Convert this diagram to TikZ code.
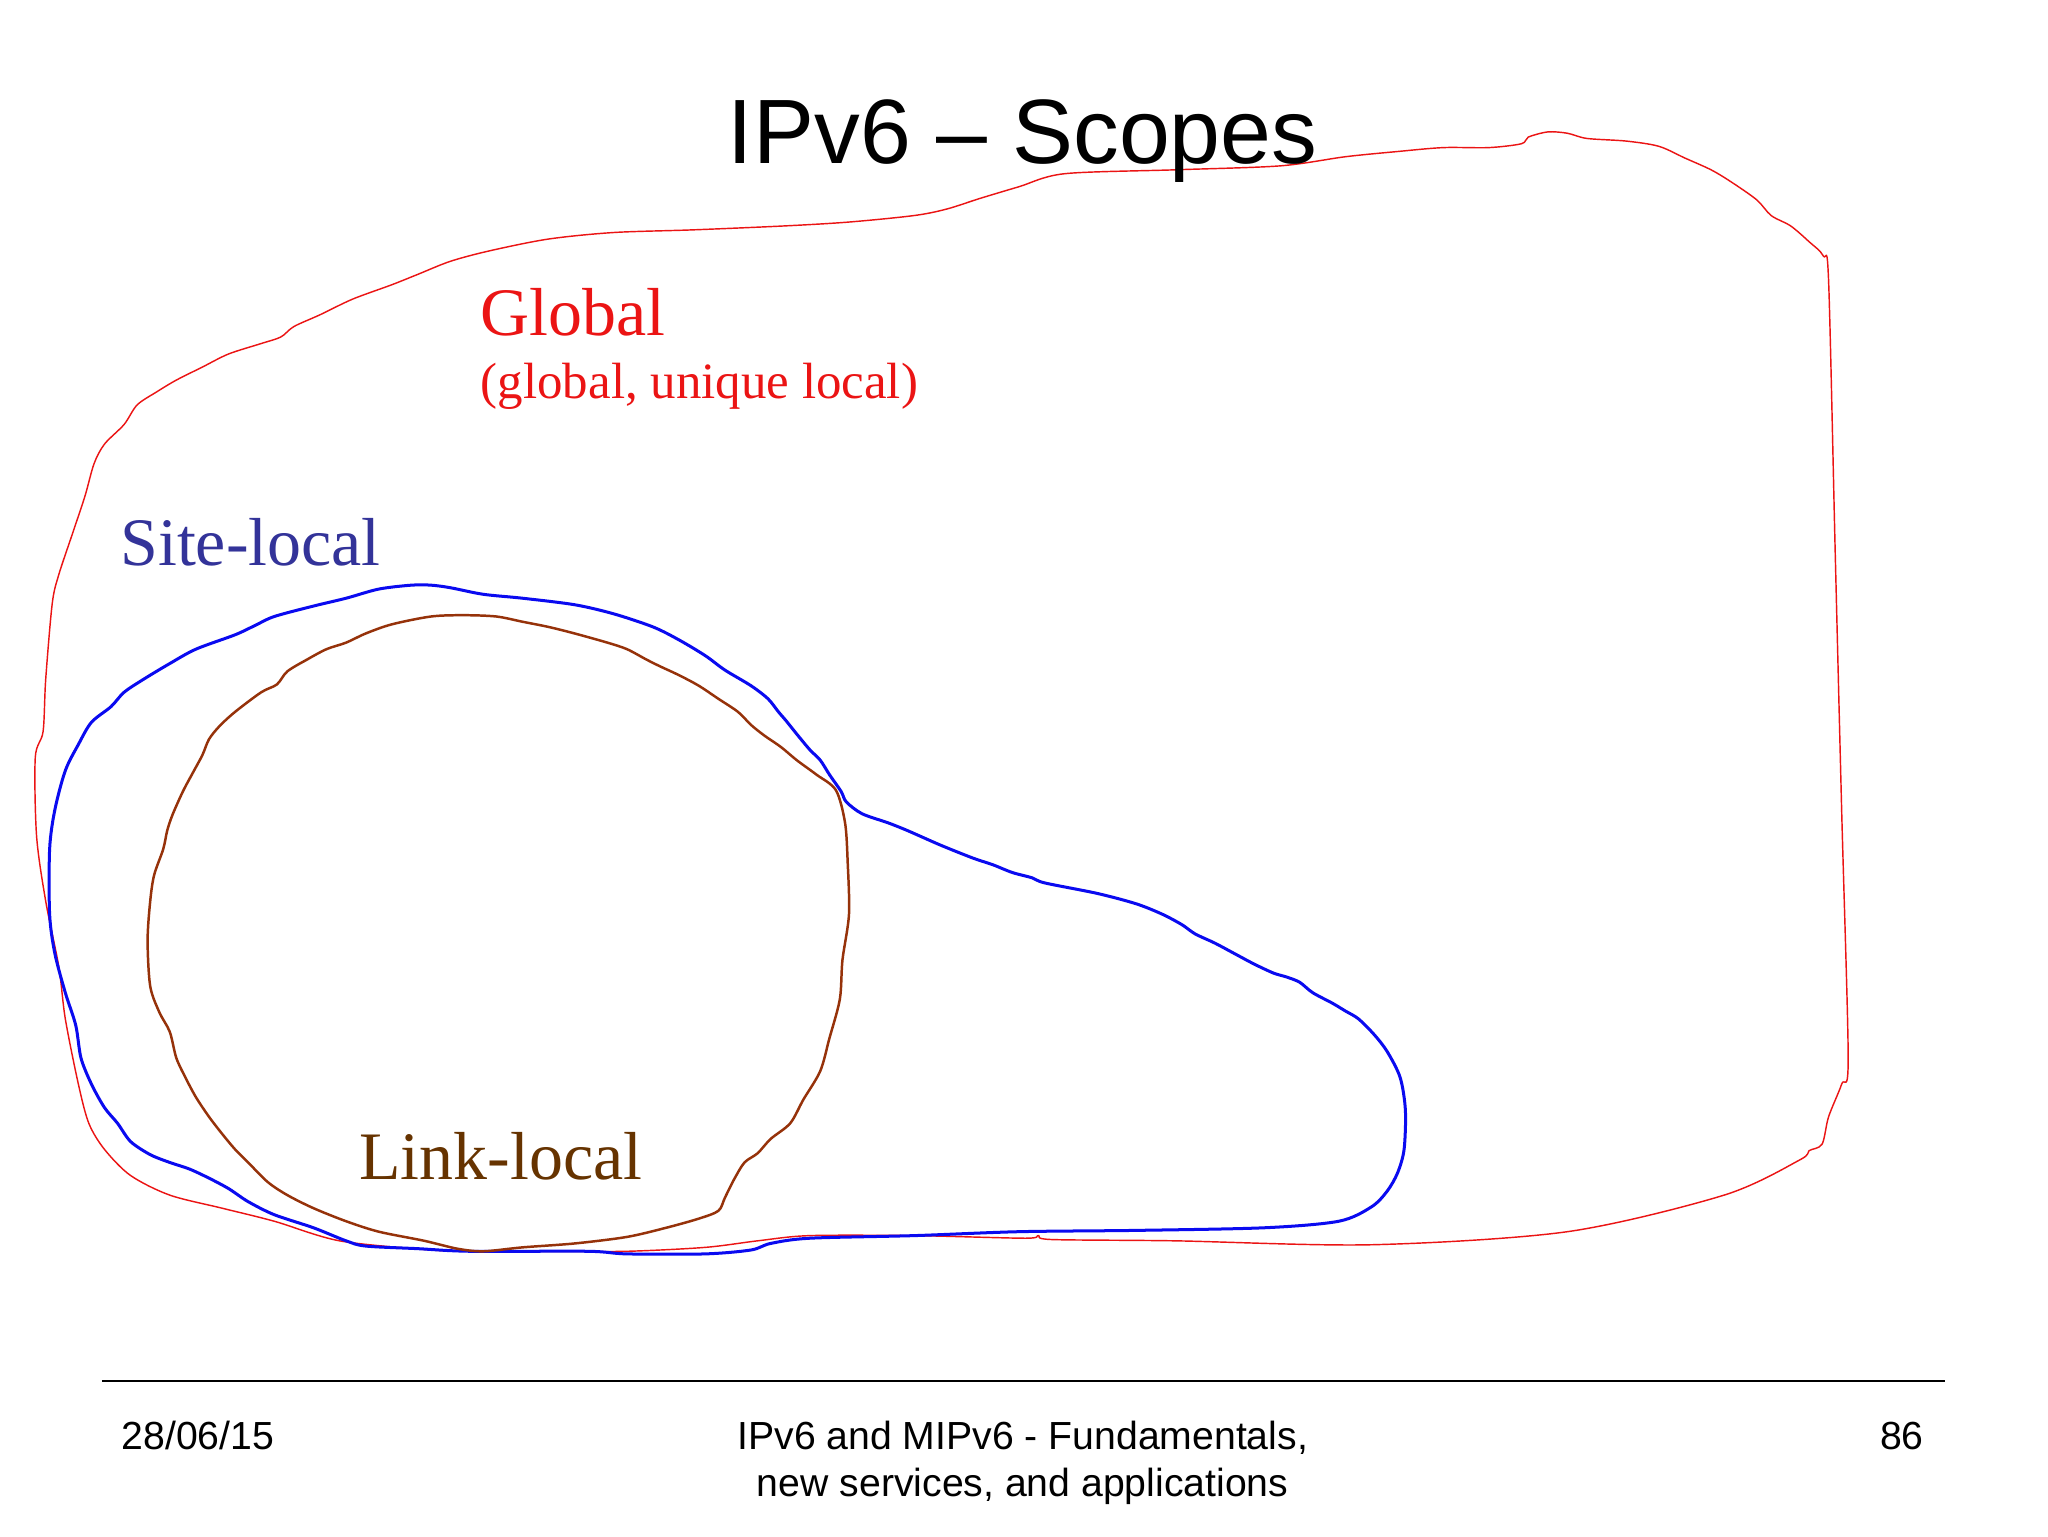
\documentclass[tikz,border=0pt]{standalone}
\usepackage{fontspec}
\setmainfont{Liberation Serif}
\setsansfont{Liberation Sans}
\definecolor{globalred}{RGB}{235,20,20}
\definecolor{siteblue}{RGB}{10,10,240}
\definecolor{sitetext}{RGB}{51,51,153}
\definecolor{linkbrown}{RGB}{150,50,10}
\definecolor{linktext}{RGB}{102,51,0}
\tikzset{
  globalline/.style={draw=globalred, line width=1.1pt, line join=round},
  siteline/.style={draw=siteblue, line width=2.3pt, line join=round},
  linkline/.style={draw=linkbrown, line width=1.9pt, line join=round},
  lbl/.style={inner sep=0pt, anchor=base west, font=\fontsize{52}{60}\selectfont},
  foot/.style={inner sep=0pt, font=\sffamily\fontsize{30}{36}\selectfont}
}
\begin{document}
\begin{tikzpicture}[x=1pt,y=-1pt]
\useasboundingbox[fill=white] (0,0) rectangle (1568,1176);
% outer global scope
\draw[globalline] plot[smooth cycle, tension=0.5] coordinates {
(1170,105) (1185,101) (1200,102) (1215,106) (1245,108) (1270,112) (1290,121) (1310,130)
(1325,139) (1345,153) (1356,165) (1371,173) (1385,185) (1396,196) (1400,215)
(1405,420) (1410,620) (1415,810) (1410,830) (1400,855) (1395,876) (1385,881) (1378,888)
(1320,915) (1200,943) (1050,953) (900,950) (805,949) (795,946) (785,948) (700,946)
(620,946) (580,950) (540,955) (480,958) (420,958) (370,958) (330,957) (260,950)
(210,935) (170,925) (130,915) (100,900) (80,880) (68,860) (60,830) (50,780) (45,740)
(35,690) (28,640) (27,580) (33,560) (35,520) (40,462) (45,440) (55,410) (65,380)
(72,355) (80,340) (95,325) (105,310) (120,300) (135,291) (155,281) (175,271) (200,263)
(215,258) (225,250) (245,241) (270,229) (300,218) (320,210) (345,200) (375,192)
(420,183) (470,178) (530,176) (600,173) (650,170) (700,165) (725,160) (750,152)
(780,143) (815,133) (900,130) (980,127) (1030,120) (1070,116) (1105,113) (1140,113)
(1165,110)};
% site-local scope
\draw[siteline] plot[smooth cycle, tension=0.5] coordinates {
(315,448) (290,451) (265,458) (240,464) (210,472) (195,479) (180,486) (150,497)
(130,508) (110,520) (95,530) (85,541) (70,553) (60,570) (50,590) (42,620) (38,650)
(38,700) (42,730) (50,760) (58,785) (62,810) (70,830) (80,848) (90,860) (100,874)
(115,884) (130,890) (145,895) (160,902) (175,910) (190,920) (210,930) (240,940)
(265,950) (280,954) (320,956) (360,958) (450,958) (480,960) (540,960) (575,957)
(590,952) (620,948) (700,946) (780,943) (870,942) (968,940) (1025,935) (1050,924)
(1062,912) (1070,898) (1075,880) (1076,850) (1072,825) (1062,805) (1052,792)
(1040,780) (1030,774) (1020,768) (1005,760) (995,752) (985,748) (975,745) (960,738)
(945,730) (930,722) (915,715) (905,708) (890,700) (870,692) (840,684) (800,676)
(790,672) (775,668) (760,662) (745,657) (720,647) (695,636) (680,630) (660,623)
(648,614) (644,606) (635,593) (628,582) (620,574) (610,562) (602,552) (596,545)
(588,535) (575,525) (555,513) (540,502) (520,490) (500,480) (470,470) (440,463)
(400,458) (370,455) (345,450) (330,448)};
% link-local scope
\draw[linkline] plot[smooth cycle, tension=0.5] coordinates {
(355,471) (330,472) (300,478) (280,485) (265,492) (250,497) (235,505) (220,514)
(212,524) (200,530) (180,545) (168,556) (160,566) (155,578) (148,591) (140,606)
(132,624) (128,636) (125,650) (118,670) (115,690) (113,720) (115,755) (122,775)
(130,790) (135,810) (142,825) (150,840) (160,855) (170,868) (180,880) (190,890)
(205,905) (220,915) (240,925) (265,935) (290,943) (325,950) (350,956) (370,958)
(400,955) (440,952) (480,947) (510,940) (535,933) (550,927) (555,917) (562,903)
(570,890) (580,883) (590,872) (605,860) (615,842) (628,820) (635,795) (643,765)
(645,735) (650,700) (649,660) (647,630) (640,605) (625,593) (610,582) (598,572)
(585,563) (575,555) (565,545) (550,535) (535,525) (520,517) (505,510) (495,505)
(480,497) (465,492) (440,485) (420,480) (400,476) (380,472)};
% title
\node[inner sep=0pt, anchor=base, font=\sffamily\fontsize{70}{80}\selectfont] (title) at (783,125) {IPv6 – Scopes};
% labels
\node[lbl, text=globalred] (global) at (368,257) {Global};
\node[lbl, text=globalred, font=\fontsize{39}{46}\selectfont] (globalsub) at (368,305) {(global, unique local)};
\node[lbl, text=sitetext] (site) at (92,433) {Site-local};
\node[lbl, text=linktext] (link) at (275,903) {Link-local};
% footer
\draw[line width=1.6pt] (78,1057) coordinate (fl) -- (1489,1057) coordinate (fr);
\node[foot, anchor=base west] (date) at (93,1110) {28/06/15};
\node[foot, anchor=base] (foot1) at (783,1110) {IPv6 and MIPv6 - Fundamentals,};
\node[foot, anchor=base] (foot2) at (783,1146) {new services, and applications};
\node[foot, anchor=base east] (page) at (1473,1110) {86};
\end{tikzpicture}
\end{document}
